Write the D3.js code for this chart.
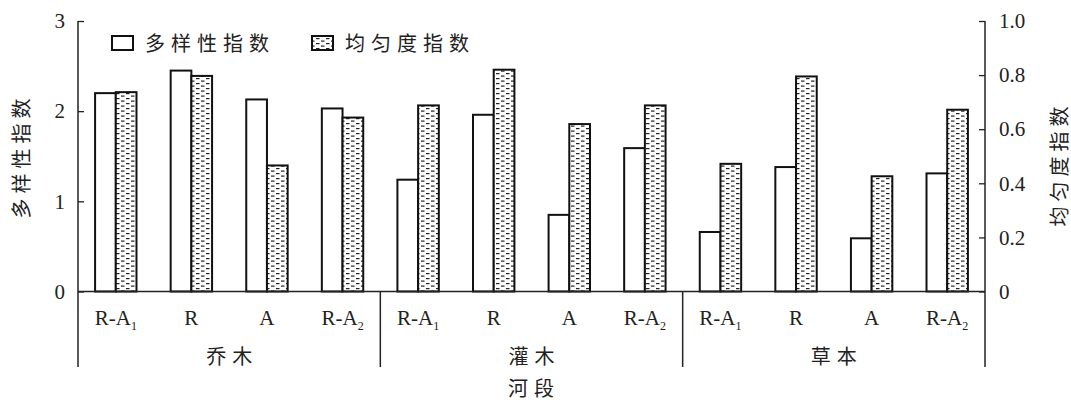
<!DOCTYPE html>
<html>
<head>
<meta charset="utf-8">
<script src="https://cdn.jsdelivr.net/npm/d3@7"></script>
<style>
  body { margin: 0; background: #fff; }
  text { fill: #222; }
</style>
</head>
<body>
<svg id="chart" width="1071" height="405"></svg>
<script>
const groups = ['乔木', '灌木', '草本'];
const sites = ['R-A1', 'R', 'A', 'R-A2'];
const diversity = [2.2, 2.45, 2.13, 2.03, 1.24, 1.96, 0.85, 1.59, 0.66, 1.38, 0.59, 1.31];
const evenness = [0.737, 0.797, 0.466, 0.643, 0.688, 0.82, 0.619, 0.688, 0.472, 0.795, 0.426, 0.672];
const leftTicks = [0, 1, 2, 3];
const rightTicks = [0, 0.2, 0.4, 0.6, 0.8, 1.0];

const MARGIN = { left: 78, right: 985, top: 21, bottom: 291.5 };
const serif = '"Liberation Serif", "DejaVu Serif", serif';
const cjk = '"Noto Sans CJK SC", sans-serif';

const svg = d3.select('#chart');

// hatch pattern for evenness bars
const defs = svg.append('defs');
const pat = defs.append('pattern')
  .attr('id', 'dash')
  .attr('patternUnits', 'userSpaceOnUse')
  .attr('width', 10)
  .attr('height', 5);
pat.append('rect').attr('width', 10).attr('height', 5).attr('fill', '#fff');
pat.append('rect').attr('x', 1).attr('y', 0.5).attr('width', 3.5).attr('height', 1.2).attr('fill', '#222');
pat.append('rect').attr('x', 6).attr('y', 3).attr('width', 3.5).attr('height', 1.2).attr('fill', '#222');

const cats = groups.flatMap((g) => sites.map((s) => `${g}|${s}`));
const x = d3.scaleBand().domain(cats).range([MARGIN.left, MARGIN.right]).paddingInner(0).paddingOuter(0);
const yL = d3.scaleLinear().domain([0, 3]).range([MARGIN.bottom, MARGIN.top]);
const yR = d3.scaleLinear().domain([0, 1]).range([MARGIN.bottom, MARGIN.top]);
const barW = 20.7;

// bars
const bars = svg.append('g');
cats.forEach((c, i) => {
  const cx = x(c) + x.bandwidth() / 2;
  bars.append('rect')
    .attr('x', cx - barW)
    .attr('y', yL(diversity[i]))
    .attr('width', barW)
    .attr('height', yL(0) - yL(diversity[i]))
    .attr('fill', '#fff')
    .attr('stroke', '#111')
    .attr('stroke-width', 2);
  bars.append('rect')
    .attr('x', cx)
    .attr('y', yR(evenness[i]))
    .attr('width', barW)
    .attr('height', yR(0) - yR(evenness[i]))
    .attr('fill', 'url(#dash)')
    .attr('stroke', '#111')
    .attr('stroke-width', 2);
});

// baseline
svg.append('line')
  .attr('x1', MARGIN.left).attr('x2', MARGIN.right)
  .attr('y1', MARGIN.bottom).attr('y2', MARGIN.bottom)
  .attr('stroke', '#222').attr('stroke-width', 1.5);

const bottomExt = 367;

// left axis
const axL = svg.append('g')
  .attr('transform', `translate(${MARGIN.left},0)`)
  .call(d3.axisRight(yL).tickValues(leftTicks).tickSize(6).tickFormat(d3.format('d')));
axL.select('.domain').remove();
axL.selectAll('.tick line').attr('stroke', '#222').attr('stroke-width', 1.3);
axL.selectAll('.tick text')
  .attr('x', -13).attr('text-anchor', 'end')
  .style('font-family', serif).style('font-size', '21px').attr('fill', '#222');

// right axis
const axR = svg.append('g')
  .attr('transform', `translate(${MARGIN.right},0)`)
  .call(d3.axisLeft(yR).tickValues(rightTicks).tickSize(6)
    .tickFormat((d) => (d === 0 ? '0' : d3.format('.1f')(d))));
axR.select('.domain').remove();
axR.selectAll('.tick line').attr('stroke', '#222').attr('stroke-width', 1.3);
axR.selectAll('.tick text')
  .attr('x', 14).attr('text-anchor', 'start')
  .style('font-family', serif).style('font-size', '21px').attr('fill', '#222');

// vertical axis lines down to the category table
[MARGIN.left, x(cats[4]), x(cats[8]), MARGIN.right].forEach((xx, i) => {
  svg.append('line')
    .attr('x1', xx).attr('x2', xx)
    .attr('y1', i === 0 || i === 3 ? MARGIN.top : MARGIN.bottom)
    .attr('y2', bottomExt)
    .attr('stroke', '#222').attr('stroke-width', 1.5);
});

// category labels with subscripts
cats.forEach((c) => {
  const s = c.split('|')[1];
  const t = svg.append('text')
    .attr('x', x(c) + x.bandwidth() / 2)
    .attr('y', 325)
    .attr('text-anchor', 'middle')
    .style('font-family', serif).style('font-size', '21px');
  const m = s.match(/^(.*?)(\d)$/);
  if (m) {
    t.append('tspan').text(m[1]);
    t.append('tspan').text(m[2]).attr('dy', 5).style('font-size', '12px');
  } else {
    t.text(s);
  }
});

// group labels
groups.forEach((g, i) => {
  const a = x(cats[i * 4]);
  const b = x(cats[i * 4 + 3]) + x.bandwidth();
  svg.append('text')
    .attr('x', (a + b) / 2 + 3)
    .attr('y', 364)
    .attr('text-anchor', 'middle')
    .style('font-family', cjk).style('font-size', '20px')
    .style('letter-spacing', '6px')
    .text(g);
});

// axis titles
svg.append('text')
  .attr('x', 534).attr('y', 396)
  .attr('text-anchor', 'middle')
  .style('font-family', cjk).style('font-size', '20px')
  .style('letter-spacing', '6px')
  .text('河段');

svg.append('text')
  .attr('transform', 'translate(20,156)rotate(-90)')
  .attr('text-anchor', 'middle')
  .attr('dominant-baseline', 'central')
  .style('font-family', cjk).style('font-size', '20px')
  .style('letter-spacing', '5px')
  .text('多样性指数');

svg.append('text')
  .attr('transform', 'translate(1058,164)rotate(-90)')
  .attr('text-anchor', 'middle')
  .attr('dominant-baseline', 'central')
  .style('font-family', cjk).style('font-size', '20px')
  .style('letter-spacing', '5px')
  .text('均匀度指数');

// legend
const legend = [
  { label: '多样性指数', fill: '#fff', x: 112 },
  { label: '均匀度指数', fill: 'url(#dash)', x: 312 },
];
legend.forEach((l) => {
  svg.append('rect')
    .attr('x', l.x).attr('y', 36)
    .attr('width', 21).attr('height', 14)
    .attr('fill', l.fill)
    .attr('stroke', '#111').attr('stroke-width', 2);
  svg.append('text')
    .attr('x', l.x + 33).attr('y', 51)
    .style('font-family', cjk).style('font-size', '20px')
    .style('letter-spacing', '6px')
    .text(l.label);
});
</script>
</body>
</html>
